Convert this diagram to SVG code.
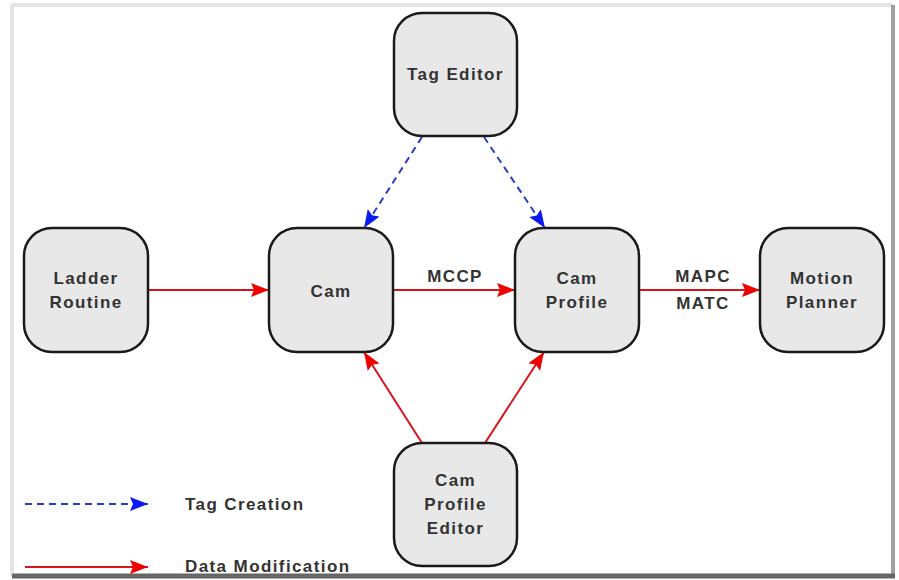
<svg xmlns="http://www.w3.org/2000/svg" width="899" height="580" viewBox="0 0 899 580">
<style>
.node rect{fill:#e8e8e8;stroke:#1a1a1a;stroke-width:2.5}
text{font-family:"Liberation Sans",Arial,sans-serif;font-weight:bold;font-size:17px;fill:#333;letter-spacing:1.4px;text-anchor:middle}
.lg{text-anchor:start}
.red{stroke:#d8141c;stroke-width:2;fill:none}
.blue{stroke:#2a3fc8;stroke-width:2;fill:none;stroke-dasharray:7 5}
</style>
<defs>
<marker id="ar" markerUnits="userSpaceOnUse" markerWidth="20" markerHeight="16" refX="18" refY="7" orient="auto">
<path d="M0,0 L18,7 L0,14 L3,7 z" fill="#ee0000"/>
</marker>
<marker id="ab" markerUnits="userSpaceOnUse" markerWidth="20" markerHeight="16" refX="18" refY="7" orient="auto">
<path d="M0,0 L18,7 L0,14 L3,7 z" fill="#0a1af0"/>
</marker>
</defs>
<rect width="899" height="580" fill="#fff"/>
<g id="frame">
<line x1="12" y1="5" x2="893" y2="5" stroke="#e4e4e4" stroke-width="4"/>
<line x1="12" y1="5" x2="12" y2="576" stroke="#e4e4e4" stroke-width="4"/>
<line x1="893" y1="5" x2="893" y2="576" stroke="#a0a0a0" stroke-width="4"/>
<line x1="12" y1="576" x2="895" y2="576" stroke="#666" stroke-width="5"/>
</g>
<g id="connectors">
<line class="red" x1="148" y1="290" x2="269" y2="290" marker-end="url(#ar)"/>
<line class="red" x1="393" y1="290" x2="515" y2="290" marker-end="url(#ar)"/>
<line class="red" x1="639" y1="290" x2="760" y2="290" marker-end="url(#ar)"/>
<line class="blue" x1="422" y1="137" x2="364" y2="228" marker-end="url(#ab)"/>
<line class="blue" x1="484" y1="137" x2="545" y2="228" marker-end="url(#ab)"/>
<line class="red" x1="422" y1="443" x2="364" y2="352" marker-end="url(#ar)"/>
<line class="red" x1="485" y1="443" x2="544" y2="352" marker-end="url(#ar)"/>
<text x="455" y="282">MCCP</text>
<text x="703" y="282">MAPC</text>
<text x="703" y="309">MATC</text>
</g>
<g id="tag-editor" class="node"><rect x="394" y="13" width="123" height="123" rx="28"/><text x="455.5" y="80">Tag Editor</text></g>
<g id="ladder-routine" class="node"><rect x="24" y="228" width="124" height="124" rx="28"/><text x="86" y="284">Ladder</text><text x="86" y="308">Routine</text></g>
<g id="cam" class="node"><rect x="269" y="228" width="124" height="124" rx="28"/><text x="331" y="297">Cam</text></g>
<g id="cam-profile" class="node"><rect x="515" y="228" width="124" height="124" rx="28"/><text x="577" y="284">Cam</text><text x="577" y="308">Profile</text></g>
<g id="motion-planner" class="node"><rect x="760" y="228" width="124" height="124" rx="28"/><text x="822" y="284">Motion</text><text x="822" y="308">Planner</text></g>
<g id="cam-profile-editor" class="node"><rect x="394" y="443" width="123" height="123" rx="28"/><text x="455.5" y="486">Cam</text><text x="455.5" y="510">Profile</text><text x="455.5" y="534">Editor</text></g>
<g id="legend">
<line class="blue" x1="25" y1="504" x2="148" y2="504" marker-end="url(#ab)"/>
<text class="lg" x="185" y="510">Tag Creation</text>
<line class="red" x1="25" y1="567" x2="148" y2="567" marker-end="url(#ar)"/>
<text class="lg" x="185" y="572">Data Modification</text>
</g>
</svg>
